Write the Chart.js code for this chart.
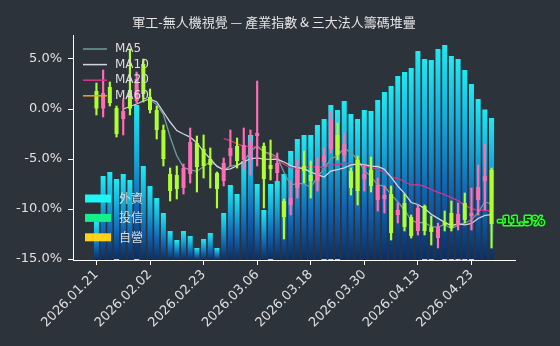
<!DOCTYPE html>
<html>
<head>
<meta charset="utf-8">
<script src="https://cdn.jsdelivr.net/npm/chart.js@4.4.1/dist/chart.umd.min.js"></script>
<style>
  html, body { margin: 0; background: #2d333b; }
  canvas { display: block; }
</style>
</head>
<body>
<canvas id="chart" width="560" height="346"></canvas>
<script>
// trading days
const dates = [
  '2026.01.21','2026.01.22','2026.01.23','2026.01.26','2026.01.27','2026.01.28','2026.01.29','2026.01.30',
  '2026.02.02','2026.02.03','2026.02.04','2026.02.05','2026.02.06','2026.02.09','2026.02.10','2026.02.11',
  '2026.02.23','2026.02.24','2026.02.25','2026.02.26','2026.03.02','2026.03.03','2026.03.04','2026.03.05',
  '2026.03.06','2026.03.09','2026.03.10','2026.03.11','2026.03.12','2026.03.13','2026.03.16','2026.03.17',
  '2026.03.18','2026.03.19','2026.03.20','2026.03.23','2026.03.24','2026.03.25','2026.03.26','2026.03.27',
  '2026.03.30','2026.03.31','2026.04.01','2026.04.02','2026.04.07','2026.04.08','2026.04.09','2026.04.10',
  '2026.04.13','2026.04.14','2026.04.15','2026.04.16','2026.04.17','2026.04.20','2026.04.21','2026.04.22',
  '2026.04.23','2026.04.24','2026.04.27','2026.04.28'
];
const tickDates = ['2026.01.21','2026.02.02','2026.02.23','2026.03.06','2026.03.18','2026.03.30','2026.04.13','2026.04.23'];
const yTicks = [-15, -10, -5, 0, 5];

// index OHLC, % change
const opens = [1.8,0.0,2.2,0.1,-1.0,1.9,0.8,4.5,1.2,-0.1,-2.1,-6.5,-6.6,-7.9,-6.5,-3.4,-4.0,-5.0,-6.4,-7.2,
  -4.7,-3.7,-5.1,-4.9,-2.7,-3.7,-5.6,-6.4,-9.2,-9.6,-7.9,-5.7,-6.6,-7.2,-5.3,-4.0,-2.6,-4.6,-6.2,-5.1,
  -7.0,-6.1,-9.1,-9.0,-8.5,-10.6,-9.4,-10.8,-12.2,-9.7,-11.8,-12.9,-11.3,-10.4,-11.6,-9.4,-10.7,-9.1,-7.2,-6.1];
const closes = [0.0,1.6,0.6,-2.5,-0.2,0.0,3.0,1.5,-0.1,-2.1,-5.0,-8.2,-8.0,-5.9,-3.3,-5.8,-5.7,-5.6,-8.0,-5.4,
  -3.9,-5.2,-3.6,-3.2,-2.4,-7.0,-6.0,-5.4,-10.8,-8.9,-6.1,-6.2,-7.2,-5.7,-4.7,-1.1,-4.6,-3.5,-7.9,-8.2,
  -6.5,-7.7,-7.6,-8.6,-12.4,-10.1,-11.8,-12.7,-9.9,-12.2,-12.3,-11.8,-11.6,-11.9,-10.5,-11.1,-10.4,-7.8,-6.7,-11.5];
const highs = [2.6,3.9,2.7,0.3,1.0,6.0,3.7,5.0,2.0,0.3,-1.6,-5.9,-5.7,-5.5,-1.9,-2.7,-2.6,-3.9,-6.3,-4.9,
  -2.1,-2.9,-1.9,-2.1,2.8,-3.4,-3.1,-4.4,-9.0,-7.2,-5.1,-4.2,-5.2,-4.9,-3.9,-0.2,-1.4,-2.4,-5.9,-4.7,
  -5.6,-4.8,-6.9,-7.7,-7.7,-9.4,-8.5,-10.6,-9.6,-9.6,-10.7,-11.4,-10.2,-9.2,-9.4,-8.4,-7.9,-5.6,-3.5,-5.9];
const lows = [-0.6,-0.8,0.3,-2.8,-2.6,-0.6,0.6,0.7,-0.4,-3.0,-5.7,-9.2,-9.0,-8.5,-7.4,-8.3,-6.9,-7.9,-9.9,-7.7,
  -5.7,-5.9,-6.0,-6.6,-5.7,-9.9,-7.1,-7.2,-13.0,-10.6,-8.9,-7.4,-8.9,-8.2,-5.7,-4.4,-5.1,-5.2,-8.6,-9.6,
  -8.2,-8.3,-10.2,-10.4,-13.1,-11.4,-12.2,-12.9,-12.6,-12.6,-13.6,-13.9,-12.2,-12.2,-12.1,-11.4,-12.1,-10.6,-10.1,-13.9];

// moving averages
const ma5 = [null,null,null,null,null,null,null,null,
  0.9,0.46,-0.54,-2.78,-4.68,-5.84,-6.08,-6.24,-5.74,-5.26,-5.68,-6.1,-5.72,-5.62,-5.24,-4.28,-3.68,-4.3,
  -4.46,-4.8,-6.32,-7.62,-7.44,-7.48,-7.84,-6.82,-5.98,-4.98,-4.66,-3.92,-4.36,-5.06,-6.14,-6.76,-7.58,-7.72,
  -8.56,-9.28,-10.1,-11.12,-11.38,-11.34,-11.78,-11.78,-11.56,-11.96,-11.62,-11.38,-11.1,-10.34,-9.3,-9.5];
const ma10 = [null,null,null,null,
  0.0,0.25,0.5,0.8,1.0,0.7,-0.3,-1.3,-2.16,-2.5,-2.81,-3.39,-4.26,-4.97,-5.76,-6.09,-5.98,-5.68,-5.25,-4.98,
  -4.89,-5.01,-5.04,-5.02,-5.3,-5.65,-5.87,-5.97,-6.32,-6.57,-6.8,-6.21,-6.07,-5.88,-5.59,-5.52,-5.56,-5.71,
  -5.75,-6.04,-6.81,-7.71,-8.43,-9.35,-9.55,-9.95,-10.53,-10.94,-11.34,-11.67,-11.48,-11.58,-11.44,-10.95,-10.63,-10.56];
const ma20 = [null,null,null,null,null,null,null,null,null,null,null,null,null,null,null,null,null,null,null,
  -2.96,-3.15,-3.49,-3.71,-3.74,-3.85,-4.2,-4.65,-5.0,-5.53,-5.87,-5.93,-5.83,-5.79,-5.78,-5.85,-5.61,-5.56,
  -5.45,-5.45,-5.59,-5.72,-5.84,-6.04,-6.31,-6.81,-6.96,-7.25,-7.62,-7.57,-7.74,-8.05,-8.33,-8.55,-8.86,-9.15,
  -9.65,-9.94,-10.15,-10.09,-10.26];
const ma60 = [null,null,null,null,null,null,null,null,null,null,null,null,null,null,null,null,null,null,null,null,
  null,null,null,null,null,null,null,null,null,null,null,null,null,null,null,null,null,null,null,null,
  null,null,null,null,null,null,null,null,null,null,null,null,null,null,null,null,null,null,null,-6.27];

// institutional chips, stacked heights on the % axis
const foreign = [3.8,8.4,8.8,8.0,8.6,8.0,15.4,9.4,7.4,6.2,4.7,2.9,2.0,2.9,2.4,1.2,2.1,2.7,1.2,4.7,
  7.5,6.6,9.9,12.5,7.6,5.0,7.5,7.9,8.6,10.9,12.1,12.5,12.5,13.5,14.0,15.4,14.9,15.9,14.6,14.1,
  15.0,14.9,16.0,16.8,17.4,18.4,18.8,19.2,20.9,20.0,19.9,21.1,21.4,20.3,20.0,18.9,17.5,16.1,15.1,14.2];
const trust = [0,0,0,0,0,0,0,0,0,0,0,0,0,0,0,0,0,0,0,0,
  0,0,0,0,0,0,0,0,0,0,0,0,0,0,0,0,0,0,0,0,
  0,0,0,0,0,0,0,0,0,0,0,0,0,0,0,0,0,0,0,0];
const dealer = [0,0,0,0.1,0,0,0.1,0,0,0,0,0,0,0,0,0,0,0,0,0,
  0,0,0,0,0,0,0.1,0,0,0,0,0,0,0,0.1,0.1,0.1,0,0,0,
  0,0,0,0,0,0,0,0,0,0.1,0.1,0,0.1,0.1,0.1,0.1,0.1,0,0,0];

const FLOOR = -15.1;
const PAD = 3;
const UP = '#ff6eb4', DOWN = '#adff2f';

const padded = arr => [...Array(PAD).fill(null), ...arr, ...Array(PAD).fill(null)];
const labels = [...Array(PAD).fill(''), ...dates, ...Array(PAD).fill('')];

const dealerBars = padded(dealer.map(d => [FLOOR, FLOOR + d]));
const trustBars = padded(trust.map((t, i) => [FLOOR + dealer[i], FLOOR + dealer[i] + t]));
const foreignBars = padded(foreign.map((f, i) => {
  const b = FLOOR + dealer[i] + trust[i];
  return [b, b + f];
}));
const bodies = padded(opens.map((o, i) => [o, closes[i]]));
const wicks = padded(lows.map((l, i) => [l, highs[i]]));
const candleColors = padded(opens.map((o, i) => closes[i] >= o ? UP : DOWN));

// cyan-to-navy fill, per bar
function chipFill(ctx) {
  const chart = ctx.chart;
  const y = chart.scales.y;
  const v = ctx.raw;
  if (!chart.chartArea || !y || !v) return '#1580c8';
  const top = y.getPixelForValue(v[1]);
  const bottom = y.getPixelForValue(FLOOR);
  if (!(bottom - top > 0)) return '#1580c8';
  const g = chart.ctx.createLinearGradient(0, top, 0, bottom);
  g.addColorStop(0, '#21e9f2');
  g.addColorStop(0.3, '#14b2de');
  g.addColorStop(0.65, '#1066b6');
  g.addColorStop(1, '#0c2d62');
  return g;
}

const maLegend = [
  { label: 'MA5', color: '#6f9c9a' },
  { label: 'MA10', color: '#d4d4e0' },
  { label: 'MA20', color: '#d8358a' },
  { label: 'MA60', color: '#f0a030' }
];
const chipLegend = [
  { label: '外資', color: '#1ff5f5' },
  { label: '投信', color: '#14f08c' },
  { label: '自營', color: '#ffd21a' }
];

const overlay = {
  id: 'overlay',
  afterDatasetsDraw(chart) {
    const c = chart.ctx;
    const area = chart.chartArea;
    c.save();
    // title
    c.fillStyle = '#e4e4e4';
    c.font = '13px "Noto Sans CJK TC"';
    c.textAlign = 'center';
    c.textBaseline = 'middle';
    c.fillText('軍工-無人機視覺 — 產業指數 & 三大法人籌碼堆疊', 274, 22);

    // MA legend
    c.textAlign = 'left';
    c.font = '12px "DejaVu Sans"';
    maLegend.forEach((m, k) => {
      const y = area.top + 14 + k * 15.6;
      c.strokeStyle = m.color;
      c.lineWidth = 1.5;
      c.beginPath();
      c.moveTo(area.left + 10, y);
      c.lineTo(area.left + 34, y);
      c.stroke();
      c.fillStyle = '#dcdcdc';
      c.fillText(m.label, area.left + 42, y);
    });

    // chip legend
    c.font = '12px "Noto Sans CJK TC"';
    chipLegend.forEach((m, k) => {
      const y = area.top + 163.5 + k * 19.4;
      c.fillStyle = m.color;
      c.fillRect(area.left + 12, y - 4, 26, 8);
      c.fillStyle = '#dcdcdc';
      c.fillText(m.label, area.left + 46, y);
    });

    // last close tag
    const meta = chart.getDatasetMeta(0);
    const last = meta.data[PAD + closes.length - 1];
    const yv = chart.scales.y.getPixelForValue(closes[closes.length - 1]);
    const txt = closes[closes.length - 1].toFixed(1) + '%';
    c.font = 'bold 12px "DejaVu Sans"';
    c.textBaseline = 'middle';
    c.lineJoin = 'round';
    c.strokeStyle = '#2cff2c';
    c.lineWidth = 3;
    c.strokeText(txt, last.x + 6, yv - 2);
    c.fillStyle = '#0b2a0b';
    c.fillText(txt, last.x + 6, yv - 2);
    c.restore();
  }
};

Chart.defaults.font.family = '"DejaVu Sans"';
Chart.defaults.font.size = 13;
Chart.defaults.color = '#e0e0e0';

new Chart(document.getElementById('chart'), {
  type: 'bar',
  data: {
    labels: labels,
    datasets: [
      { type: 'bar', label: 'body', data: bodies, backgroundColor: candleColors, grouped: false,
        barPercentage: 0.6, categoryPercentage: 1, minBarLength: 1.5, order: 1 },
      { type: 'bar', label: 'wick', data: wicks, backgroundColor: candleColors, grouped: false,
        barThickness: 1.5, order: 2 },
      { type: 'line', label: 'MA10', data: padded(ma10), borderColor: '#d4d4e0', borderWidth: 1.3,
        pointRadius: 0, order: 3 },
      { type: 'line', label: 'MA5', data: padded(ma5), borderColor: '#6f9c9a', borderWidth: 1.3,
        pointRadius: 0, order: 3 },
      { type: 'line', label: 'MA20', data: padded(ma20), borderColor: '#d8358a', borderWidth: 1.3,
        pointRadius: 0, order: 3 },
      { type: 'line', label: 'MA60', data: padded(ma60), borderColor: '#f0a030', borderWidth: 1.3,
        pointRadius: 0, order: 3 },
      { type: 'bar', label: '外資', data: foreignBars, backgroundColor: chipFill, grouped: false,
        barPercentage: 0.75, categoryPercentage: 1, order: 5 },
      { type: 'bar', label: '投信', data: trustBars, backgroundColor: '#14f08c', grouped: false,
        barPercentage: 0.75, categoryPercentage: 1, order: 5 },
      { type: 'bar', label: '自營', data: dealerBars, backgroundColor: '#e8d060', grouped: false,
        barPercentage: 0.75, categoryPercentage: 1, order: 5 }
    ]
  },
  options: {
    responsive: false,
    animation: false,
    layout: { padding: { top: 35, right: 45, left: 0, bottom: 0 } },
    plugins: { legend: { display: false }, tooltip: { enabled: false }, title: { display: false } },
    scales: {
      x: {
        offset: true,
        afterFit(scale) { scale.height = 86; },
        afterBuildTicks(scale) {
          scale.ticks = scale.ticks.filter(t => tickDates.includes(labels[t.value]));
        },
        ticks: { autoSkip: false, maxRotation: 45, minRotation: 45, color: '#e0e0e0', padding: 2 },
        grid: { display: true, drawOnChartArea: false, offset: false, tickLength: 5, color: '#ffffff' },
        border: { color: '#ffffff', width: 1 }
      },
      y: {
        min: FLOOR,
        max: 7.4,
        afterFit(scale) { scale.width = 73; },
        afterBuildTicks(scale) { scale.ticks = yTicks.map(v => ({ value: v })); },
        ticks: { callback: v => v.toFixed(1) + '%', color: '#e0e0e0', padding: 6 },
        grid: { display: true, drawOnChartArea: false, tickLength: 5, color: '#ffffff' },
        border: { color: '#ffffff', width: 1 }
      }
    }
  },
  plugins: [overlay]
});
</script>
</body>
</html>
